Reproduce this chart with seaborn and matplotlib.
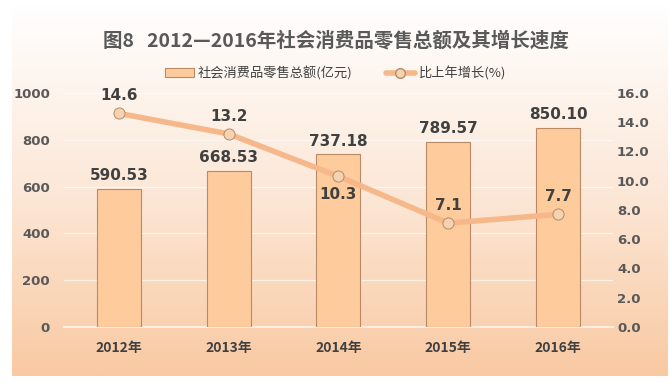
import numpy as np
import pandas as pd
import matplotlib
matplotlib.use("Agg")
import matplotlib.pyplot as plt
import seaborn as sns
from matplotlib.colors import LinearSegmentedColormap
from matplotlib.patches import Rectangle
from matplotlib.lines import Line2D

years = ["2012年", "2013年", "2014年", "2015年", "2016年"]
sales = [590.53, 668.53, 737.18, 789.57, 850.10]
growth = [14.6, 13.2, 10.3, 7.1, 7.7]
sales_labels = ["590.53", "668.53", "737.18", "789.57", "850.10"]
growth_labels = ["14.6", "13.2", "10.3", "7.1", "7.7"]
left_ticks = [0, 200, 400, 600, 800, 1000]
right_ticks = [0, 2, 4, 6, 8, 10, 12, 14, 16]

sns.set_style("white")
plt.rcParams['font.family'] = ['Noto Sans CJK SC', 'DejaVu Sans']

df = pd.DataFrame({"year": years, "sales": sales, "growth": growth})

fig = plt.figure(figsize=(6.71, 3.85), dpi=100)

# gradient background panel
bg = fig.add_axes([12 / 671, 9 / 385, 1 - 15 / 671, 1 - 12 / 385], zorder=-10)
grad = np.linspace(0, 1, 256).reshape(-1, 1)
cmap = LinearSegmentedColormap.from_list("bg", ["#FFFFFF", "#FCE8D8", "#F9C9A2"])
bg.imshow(grad, aspect="auto", cmap=cmap, extent=[0, 1, 0, 1], origin="upper")
bg.set_axis_off()

ax = fig.add_axes([0.0954, 0.1506, 0.818, 0.608])
ax.patch.set_alpha(0)
sns.barplot(data=df, x="year", y="sales", ax=ax, color="#FDCB9C", saturation=1,
            width=0.4, edgecolor="#B88A66", linewidth=0.8, zorder=3)
ax.set_ylim(0, 1000)
ax.set_yticks(left_ticks)
ax.set_yticklabels([str(t) for t in left_ticks], fontsize=9.5, color="#595959",
                   fontweight="bold", family="DejaVu Sans")
ax.set_xlabel("")
ax.set_ylabel("")
ax.tick_params(axis="both", length=0, pad=10)
for lab in ax.get_xticklabels():
    lab.set_fontsize(10)
    lab.set_color("#404040")
    lab.set_fontweight("bold")
ax.grid(axis="y", color="#FFFFFF", linewidth=0.9, alpha=0.7, zorder=0)
for s in ["top", "right", "left"]:
    ax.spines[s].set_visible(False)
ax.spines["bottom"].set_color("#FBEDE2")
ax.spines["bottom"].set_linewidth(1.5)
ax.set_xlim(-0.5, 4.5)

for i, (v, t) in enumerate(zip(sales, sales_labels)):
    ax.text(i, v + 25, t, ha="center", va="bottom", fontsize=11, fontweight="bold",
            color="#404040", family="DejaVu Sans", zorder=6)

ax2 = ax.twinx()
sns.lineplot(data=df, x="year", y="growth", ax=ax2, color="#F6B88A", linewidth=4,
             marker="o", markersize=8, markerfacecolor="#F5D2B0",
             markeredgecolor="#B58A68", markeredgewidth=0.7, zorder=5)
ax2.set_ylim(0, 16)
ax2.set_yticks(right_ticks)
ax2.set_yticklabels([f"{t:.1f}" for t in right_ticks], fontsize=9.5, color="#595959",
                    fontweight="bold", family="DejaVu Sans")
ax2.tick_params(axis="y", length=0, pad=3)
ax2.set_ylabel("")
ax2.set_xlabel("")
for s in ["top", "right", "left", "bottom"]:
    ax2.spines[s].set_visible(False)

offsets = [0.7, 0.7, -0.7, 0.7, 0.7]
for i, (v, t, o) in enumerate(zip(growth, growth_labels, offsets)):
    ax2.text(i, v + o, t, ha="center", va="bottom" if o > 0 else "top", fontsize=11,
             fontweight="bold", color="#404040", family="DejaVu Sans", zorder=7)

fig.text(0.5, 0.895, "图8   2012—2016年社会消费品零售总额及其增长速度", ha="center", va="center",
         fontsize=14, fontweight="bold", color="#595959")

h1 = Rectangle((0, 0), 1, 1, facecolor="#FDCB9C", edgecolor="#B88A66", linewidth=0.8)
h2 = Line2D([0], [0], color="#F6B88A", linewidth=4, marker="o", markersize=7,
            markerfacecolor="#F5D2B0", markeredgecolor="#B58A68")
fig.legend([h1, h2], ["社会消费品零售总额(亿元)", "比上年增长(%)"], loc="center",
           bbox_to_anchor=(0.5, 0.81), ncol=2, frameon=False, fontsize=9.5,
           labelcolor="#404040", handlelength=2.2, columnspacing=2.5, handletextpad=0.3)

fig.savefig("out.png", dpi=100)
